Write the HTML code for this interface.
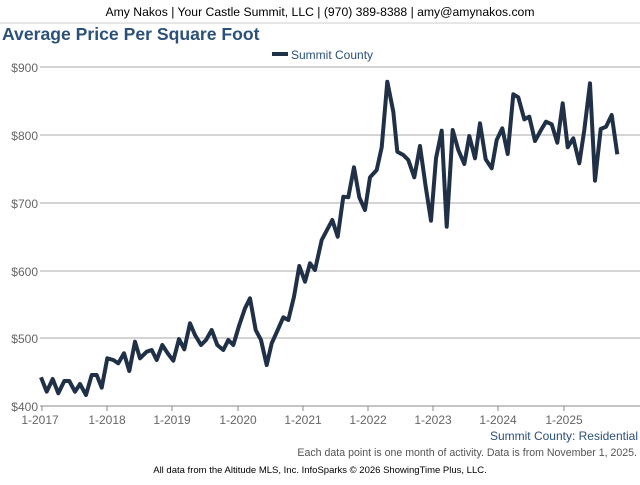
<!DOCTYPE html>
<html><head><style>
body{margin:0;width:640px;height:480px;background:#fff;font-family:"Liberation Sans",sans-serif;overflow:hidden}
</style></head><body>
<svg width="640" height="480" xmlns="http://www.w3.org/2000/svg" font-family="Liberation Sans, sans-serif">
<rect x="0" y="0" width="640" height="22" fill="#fff"/>
<text x="320" y="16" font-size="12.2" text-anchor="middle" fill="#000">Amy Nakos | Your Castle Summit, LLC | (970) 389-8388 | amy@amynakos.com</text>
<line x1="0" y1="23" x2="640" y2="23" stroke="#ccc"/>
<text x="2" y="40" font-size="17.6" font-weight="bold" fill="#2b5079">Average Price Per Square Foot</text>
<line x1="272" y1="54" x2="288" y2="54" stroke="#1f3047" stroke-width="4"/>
<text x="291" y="59" font-size="12" fill="#2b5079">Summit County</text>
<g stroke="#aaa" stroke-width="1">
<line x1="40" y1="67" x2="640" y2="67"/>
<line x1="40" y1="135" x2="640" y2="135"/>
<line x1="40" y1="203" x2="640" y2="203"/>
<line x1="40" y1="271" x2="640" y2="271"/>
<line x1="40" y1="338" x2="640" y2="338"/>
<line x1="40" y1="406" x2="640" y2="406" stroke="#888"/>
</g>
<g font-size="12" fill="#666" text-anchor="end">
<text x="38" y="72">$900</text><text x="38" y="140">$800</text><text x="38" y="208">$700</text>
<text x="38" y="276">$600</text><text x="38" y="343">$500</text><text x="38" y="411">$400</text>
</g>
<g stroke="#888"><line x1="42" y1="406" x2="42" y2="411"/><line x1="107" y1="406" x2="107" y2="411"/><line x1="172" y1="406" x2="172" y2="411"/><line x1="238" y1="406" x2="238" y2="411"/><line x1="303" y1="406" x2="303" y2="411"/><line x1="368" y1="406" x2="368" y2="411"/><line x1="433" y1="406" x2="433" y2="411"/><line x1="498" y1="406" x2="498" y2="411"/><line x1="564" y1="406" x2="564" y2="411"/></g>
<g font-size="12" fill="#666" text-anchor="middle">
<text x="40" y="424">1-2017</text><text x="107" y="424">1-2018</text><text x="172" y="424">1-2019</text><text x="238" y="424">1-2020</text><text x="303" y="424">1-2021</text><text x="368" y="424">1-2022</text><text x="433" y="424">1-2023</text><text x="498" y="424">1-2024</text><text x="564" y="424">1-2025</text>
</g>
<polyline fill="none" stroke="#1f3047" stroke-width="4" stroke-linejoin="round" points="41,377.3 46.7,391.7 52.7,379 58.3,393.3 64.3,381 69.3,381 75,391.7 80,384 86,395 91.7,375 96.7,375 101.7,387.7 107.3,358.3 113.3,360 118.3,363.3 124,353.3 129.3,371 135,341.7 140,358.3 146.7,351.7 151.7,350 156.7,360 162.3,345 167.7,353.3 173.3,360.7 179,339 184.3,349.3 190,323.3 195,335 201,345 206,340 211.7,330 217.3,345 223.3,350 228.3,340 233.3,345 239.3,325 245,308.3 250,298.3 255.7,330 261,340 266.7,365 271.7,343.3 277.7,330 283.3,317.3 288.3,320 294,296.7 299.3,266 305,281.7 310,263.3 315,270 321.7,240 332.3,220 337.7,236.7 343.3,196.7 348.3,197.3 354,167.3 359.3,197.3 365,210 370,177.3 376.7,170 381.7,147.3 387.3,81.7 393.3,111.7 397.3,151.7 403.3,155 408.3,160 414.3,177.3 420,146 425.7,186.7 431,220.7 436,158.3 441.7,130.7 446.7,226.7 452.7,130 458.3,150 464.3,164 469.3,136 475,158.3 480,123.3 485.7,159.3 491.7,168.3 496.7,140 502.3,128.3 507.7,154 513.3,94.3 518.3,97.3 524.3,119.3 529.3,116.7 535,141 541,130 546,121.7 551.7,124.3 557.3,142.7 562.7,103.3 567.7,147.3 573.3,138.3 579.3,163.3 584.3,130 590,83.3 595,180.7 600.7,129 606,126.7 611.7,115 617.3,154.3"/>
<text x="638" y="440" font-size="12" fill="#2b5079" text-anchor="end">Summit County: Residential</text>
<text x="637" y="456" font-size="10.6" fill="#555" text-anchor="end">Each data point is one month of activity. Data is from November 1, 2025.</text>
<text x="320" y="473" font-size="9.5" fill="#000" text-anchor="middle">All data from the Altitude MLS, Inc. InfoSparks © 2026 ShowingTime Plus, LLC.</text>
</svg>
</body></html>
